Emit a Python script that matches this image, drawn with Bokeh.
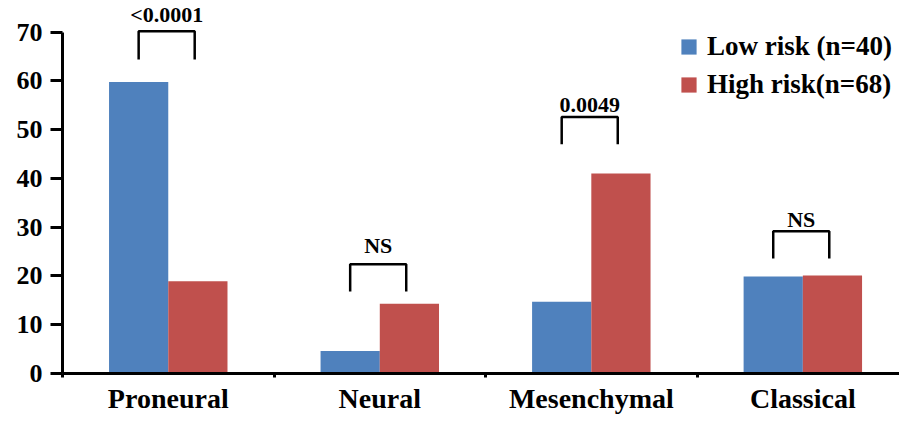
import numpy as np
from bokeh.plotting import figure
from bokeh.models import ColumnDataSource, FixedTicker, Range1d, Legend, LegendItem
from bokeh.core.properties import value
from bokeh.embed import file_html
from bokeh.resources import INLINE

# ---- data ----
categories = ["Proneural", "Neural", "Mesenchymal", "Classical"]
series_names = ["Low risk (n=40)", "High risk(n=68)"]
low_risk = [59.8, 4.6, 14.7, 19.9]
high_risk = [18.9, 14.3, 41.0, 20.1]
p_labels = ["<0.0001", "NS", "0.0049", "NS"]
bracket_top = [70.2, 22.4, 52.6, 29.2]
bracket_bottom = [64.4, 16.8, 47.0, 23.6]
label_y = [73.6, 26.2, 55.0, 31.6]
y_ticks = [0, 10, 20, 30, 40, 50, 60, 70]

BLUE = "#4F81BD"
RED = "#C0504D"
FONT = value("Liberation Serif")

n = len(categories)
centers = np.arange(n) + 0.5
boundaries = list(np.arange(n + 1).astype(float))
bw = 0.28

p = figure(width=899, height=416,
           x_range=Range1d(0, 3.957), y_range=Range1d(0, 76.5),
           output_backend="svg", toolbar_location=None,
           min_border_left=62, min_border_right=0, min_border_top=0,
           min_border_bottom=0)
p.outline_line_color = None
p.grid.visible = False
p.background_fill_color = "white"

src = ColumnDataSource(dict(x_low=centers - bw / 2, x_high=centers + bw / 2,
                            low=low_risk, high=high_risk))
r_low = p.vbar(x="x_low", top="low", width=bw, bottom=0, source=src,
               fill_color=BLUE, line_color=None)
r_high = p.vbar(x="x_high", top="high", width=bw, bottom=0, source=src,
                fill_color=RED, line_color=None)

# significance brackets
left = centers - 0.14
right = centers + 0.125
xs = [[l, l, r, r] for l, r in zip(left, right)]
ys = [[b, t, t, b] for b, t in zip(bracket_bottom, bracket_top)]
p.multi_line(xs=xs, ys=ys, line_color="black", line_width=2.5)
p.text(x=(left + right) / 2, y=label_y, text=p_labels, text_align="center",
       text_baseline="middle", text_font=FONT, text_font_style="bold",
       text_font_size="22px", text_color="black")

# y axis
ya = p.yaxis[0]
ya.ticker = FixedTicker(ticks=y_ticks, minor_ticks=[])
ya.bounds = (0, 70)
ya.axis_line_width = 3
ya.axis_line_color = "black"
ya.major_tick_line_width = 3
ya.major_tick_out = 12
ya.major_tick_in = 0
ya.major_label_standoff = 8
ya.major_label_text_font = "Liberation Serif"
ya.major_label_text_font_style = "bold"
ya.major_label_text_font_size = "26px"
ya.major_label_text_color = "black"

# x axis
xa = p.xaxis[0]
xa.ticker = FixedTicker(ticks=list(centers), minor_ticks=boundaries)
xa.major_label_overrides = {float(c): name for c, name in zip(centers, categories)}
xa.axis_line_width = 3
xa.axis_line_color = "black"
xa.major_tick_out = 0
xa.major_tick_in = 0
xa.minor_tick_out = 4
xa.minor_tick_in = 0
xa.minor_tick_line_width = 3
xa.minor_tick_line_color = "black"
xa.major_label_standoff = 5
xa.major_label_text_font = "Liberation Serif"
xa.major_label_text_font_style = "bold"
xa.major_label_text_font_size = "28px"
xa.major_label_text_color = "black"

legend = Legend(items=[LegendItem(label=series_names[0], renderers=[r_low]),
                       LegendItem(label=series_names[1], renderers=[r_high])],
                location=(617, 273), padding=0, margin=0, spacing=7,
                glyph_width=19, glyph_height=19, label_standoff=9,
                label_text_font="Liberation Serif", label_text_font_style="bold",
                label_text_font_size="27px", label_text_color="black",
                border_line_color=None, background_fill_alpha=0)
p.add_layout(legend)

open("out.html", "w").write(file_html(p, INLINE))
